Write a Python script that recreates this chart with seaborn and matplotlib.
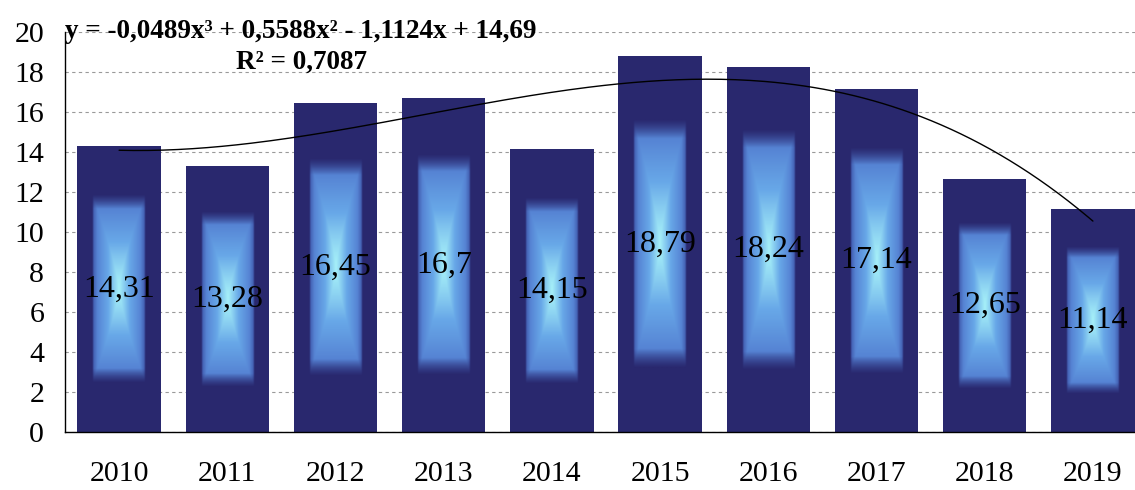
import matplotlib
matplotlib.use("Agg")
import matplotlib.pyplot as plt
from matplotlib.colors import LinearSegmentedColormap, to_rgb
import numpy as np
import pandas as pd
import seaborn as sns

years = ["2010", "2011", "2012", "2013", "2014", "2015", "2016", "2017", "2018", "2019"]
values = [14.31, 13.28, 16.45, 16.7, 14.15, 18.79, 18.24, 17.14, 12.65, 11.14]
# trend from the equation shown on the chart
trend_coef = [-0.0489, 0.5588, -1.1124, 14.69]
equation = "y = -0,0489x³ + 0,5588x² - 1,1124x + 14,69\nR² = 0,7087"

sns.set_style("white")
plt.rcParams["font.family"] = ["Liberation Serif", "DejaVu Serif"]
plt.rcParams["text.color"] = "black"
plt.rcParams["xtick.color"] = "black"
plt.rcParams["ytick.color"] = "black"

df = pd.DataFrame({"year": years, "value": values})

fig = plt.figure(figsize=(11.35, 4.9), dpi=100)
ax = fig.add_axes([65 / 1135, 1 - 432 / 490, (1147 - 65) / 1135, 400 / 490])

navy = "#29286e"
sns.barplot(data=df, x="year", y="value", color=navy, width=0.77,
            saturation=1, linewidth=0, ax=ax, zorder=2)

# glow inside each bar: rectangular gradient, bright in the middle,
# soft fade into the bar colour at its borders
glow = LinearSegmentedColormap.from_list(
    "glow", [(0, "#3e55a8"), (0.2, "#5684d4"), (0.6, "#68a8e8"),
             (1, "#a6f0f8")])
gx, gy = np.meshgrid(np.linspace(-1, 1, 120), np.linspace(-1, 1, 240))
grad = 1 - np.maximum(np.abs(gx), np.abs(gy) ** 1.3)
rgb = glow(grad)[..., :3]
mask = (np.clip((1 - np.abs(gx)) / 0.06, 0, 1)
        * np.clip((1 - np.abs(gy)) / 0.15, 0, 1))[..., None]
rgb = np.array(to_rgb(navy)) * (1 - mask) + rgb * mask

for p, v in zip(ax.patches, values):
    w = p.get_width()
    x0 = p.get_x() + 0.18 * w
    x1 = p.get_x() + 0.82 * w
    ax.imshow(rgb, aspect="auto", extent=(x0, x1, 0.17 * v, 0.83 * v),
              zorder=3, interpolation="bilinear")
    ax.text(p.get_x() + w / 2, v / 2, f"{v:g}".replace(".", ","),
            ha="center", va="center", fontsize=23, zorder=4)

# trend line
pos = np.linspace(0, len(years) - 1, 200)
sns.lineplot(x=pos, y=np.polyval(trend_coef, pos + 1), color="black",
             linewidth=1, ax=ax, zorder=5)

ax.set_xlim(-0.5, len(years) - 0.5)
ax.set_ylim(0, 20)
ax.set_yticks(range(0, 21, 2))
ax.yaxis.grid(True, color="#9a9a9a", linestyle=(0, (3, 3)), linewidth=0.8)
ax.set_axisbelow(True)
ax.set_xlabel("")
ax.set_ylabel("")

ax.set_xticks(np.arange(-0.5, len(years), 1), minor=True)
ax.tick_params(axis="x", which="major", length=0, pad=21, labelsize=21.5)
ax.tick_params(axis="x", which="minor", length=6, width=1, direction="out")
ax.tick_params(axis="y", length=7, width=1, direction="out", pad=8,
               labelsize=21.5)

for s in ["top", "right"]:
    ax.spines[s].set_visible(False)
for s in ["left", "bottom"]:
    ax.spines[s].set_color("black")
    ax.spines[s].set_linewidth(1)

fig.text(301 / 1135, 1 - 19 / 490, equation, ha="center", va="top",
         fontsize=19.5, fontweight="bold", linespacing=1.3, zorder=6)

fig.savefig("out.png", dpi=100)
